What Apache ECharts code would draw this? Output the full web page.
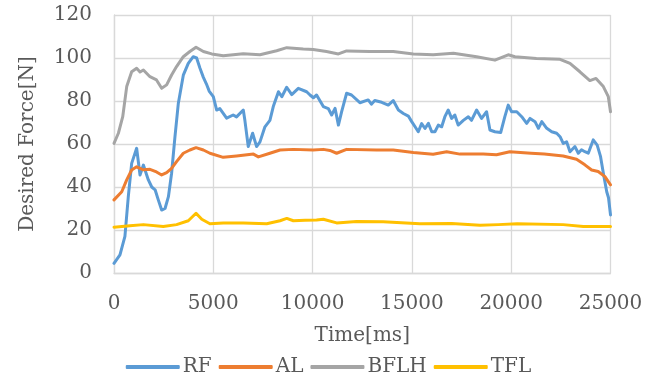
<!DOCTYPE html>
<html>
<head>
<meta charset="utf-8">
<script src="https://cdn.jsdelivr.net/npm/echarts@6/dist/echarts.min.js"></script>
<style>html,body{margin:0;padding:0;background:#fff}#c{width:657px;height:382px}</style>
</head>
<body>
<div id="c"></div>
<script>
const seriesNames = ['RF', 'AL', 'BFLH', 'TFL'];
const xTicks = [0, 5000, 10000, 15000, 20000, 25000];
const yTicks = [0, 20, 40, 60, 80, 100, 120];

const rfTime = [0,300,550,720,890,1140,1310,1480,1730,1900,2070,2230,2400,2570,2740,2900,3070,3240,3490,3740,3990,4160,4330,4500,4650,4800,5000,5170,5330,5670,6000,6170,6510,6590,6760,6980,7180,7350,7600,7850,8020,8280,8450,8695,8950,9280,9700,9870,10040,10200,10540,10790,10960,11130,11300,11460,11710,11960,12380,12800,12960,13130,13480,13810,14060,14320,14570,14820,14990,15160,15320,15490,15660,15830,16000,16160,16330,16500,16660,16830,17000,17160,17330,17590,17840,18000,18260,18510,18760,18930,19180,19470,19680,19850,20020,20280,20530,20780,20950,21200,21370,21540,21790,22040,22290,22460,22620,22790,22960,23210,23380,23540,23710,23880,24130,24330,24500,24640,24810,24900,25000];
const rfValues = [4.5,8.4,17,35.5,51,58,45.6,50.2,43.3,40,38.7,34,29.3,30,35.5,46.4,63.4,79,92,97.5,100.6,100,95.2,91,88,84.5,82,75.8,76.5,72,73.5,72.6,75.8,71,58.8,65,58.8,61,68,71,77.4,84.3,82,86.4,83,85.9,84.3,82.8,81.5,82.8,77.4,76.5,73.5,76.6,68.8,74.9,83.6,82.8,79.2,80.5,78.5,80.2,79.4,78.1,80.2,75.8,74.2,73,70.4,68,65.7,69.5,67.2,69.6,65.7,65.7,68.8,68,72.7,75.8,71.9,73.5,68.8,71,72.7,71,75.8,71.9,75,66.5,65.7,65.3,72.7,78.1,75,75,72.7,69.6,71.9,70.4,67.3,70.4,67.3,65.7,65,63.4,60.3,61,56.4,58.8,55.7,57.3,56.4,55.7,61.9,59.5,54.1,46.4,37.8,35,27];

const alTime = [0,390,640,890,1140,1480,1810,2140,2400,2650,2900,3150,3490,3820,4130,4500,4830,5500,6170,7020,7270,7850,8360,9030,10030,10540,10870,11210,11710,13220,14060,15070,16070,16750,17420,18590,19260,19930,21000,21670,22620,23290,23710,24050,24380,24720,25000];
const alValues = [34,37.8,43.3,47.9,49.4,48,48.2,47,45.6,46.7,48.7,51.8,55.7,57.2,58.3,57.2,55.7,53.8,54.4,55.3,54,55.7,57.2,57.5,57.2,57.5,57,55.7,57.5,57.2,57.2,56,55.2,56.4,55.3,55.3,55,56.4,55.7,55.3,54.4,52.9,50.3,47.9,47.2,44.8,41];

const bflhTime = [0,220,440,640,890,1140,1310,1480,1810,2140,2400,2650,2900,3150,3490,3820,4130,4500,4920,5500,6510,7350,8190,8700,9530,10030,10700,11300,11710,12880,14060,15070,16070,17090,18260,19180,19850,20190,21270,22460,22960,23460,23960,24270,24640,24890,25000];
const bflhValues = [60.3,65,72.7,86.7,93.6,95.2,93.5,94.4,91.3,89.8,85.9,87.5,92.1,96,100.6,103,105,103,101.9,101,102,101.5,103.4,104.8,104.2,104,103,101.9,103.3,103,103,101.9,101.5,102.2,100.6,99,101.5,100.6,99.8,99.4,97.5,93.6,89.5,90.5,86.7,82,75];

const tflTime = [0,800,1480,2480,3150,3740,4130,4420,4830,5500,6510,7690,8360,8700,9030,9620,10200,10540,11210,12210,13550,15400,17000,18430,19350,20300,22620,23630,25000];
const tflValues = [21.3,22,22.5,21.6,22.5,24.3,27.8,25,22.9,23.3,23.3,22.9,24.3,25.4,24.3,24.5,24.6,25,23.3,24,23.8,22.9,23,22.2,22.5,22.9,22.5,21.6,21.6];

const colors = ['#5B9BD5', '#ED7D31', '#A5A5A5', '#FFC000'];
const times = [rfTime, alTime, bflhTime, tflTime];
const values = [rfValues, alValues, bflhValues, tflValues];

const font = '"DejaVu Serif", serif';
const textColor = '#595959';
const gridColor = '#d9d9d9';

const chart = echarts.init(document.getElementById('c'));
chart.setOption({
  animation: false,
  color: colors,
  textStyle: { fontFamily: font },
  grid: { left: 114, right: 46.5, top: 15, bottom: 109, containLabel: false },
  xAxis: {
    type: 'value', min: xTicks[0], max: xTicks[xTicks.length - 1], interval: 5000,
    name: 'Time[ms]', nameLocation: 'middle', nameGap: 53,
    nameTextStyle: { color: textColor, fontSize: 20, fontFamily: font },
    axisLine: { show: true, lineStyle: { color: gridColor, width: 1.3 } },
    axisTick: { show: false },
    splitLine: { show: true, lineStyle: { color: gridColor, width: 1.3 } },
    axisLabel: { color: textColor, fontSize: 20, fontFamily: font, margin: 21, formatter: v => String(v) }
  },
  yAxis: {
    type: 'value', min: yTicks[0], max: yTicks[yTicks.length - 1], interval: 20,
    name: 'Desired Force[N]', nameLocation: 'middle', nameGap: 76,
    nameTextStyle: { color: textColor, fontSize: 20, fontFamily: font },
    axisLine: { show: true, lineStyle: { color: gridColor, width: 1.3 } },
    axisTick: { show: false },
    splitLine: { show: true, lineStyle: { color: gridColor, width: 1.3 } },
    axisLabel: { color: textColor, fontSize: 20, fontFamily: font, margin: 22 }
  },
  legend: {
    bottom: 0, left: 'center', icon: 'roundRect', itemWidth: 54, itemHeight: 4, itemGap: 7,
    textStyle: { color: textColor, fontSize: 20, fontFamily: font, padding: [0, 0, 0, -2] },
    data: seriesNames
  },
  series: seriesNames.map((n, i) => ({
    name: n, type: 'line', symbol: 'none', smooth: false,
    lineStyle: { width: 3, color: colors[i], cap: 'round', join: 'round' },
    data: times[i].map((t, j) => [t, values[i][j]])
  }))
});
</script>
</body>
</html>
